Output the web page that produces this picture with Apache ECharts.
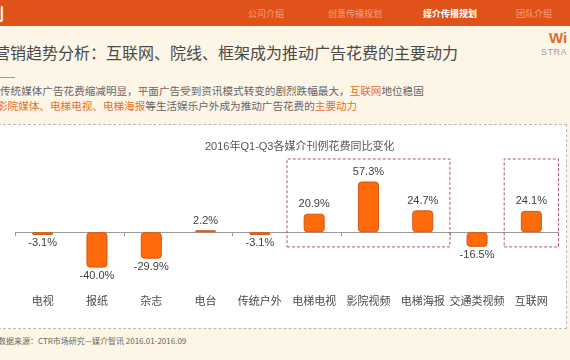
<!DOCTYPE html>
<html>
<head>
<meta charset="utf-8">
<script src="https://cdn.jsdelivr.net/npm/echarts@6/dist/echarts.min.js"></script>
<style>
  html, body { margin:0; padding:0; }
  body { width:570px; height:360px; overflow:hidden; position:relative; background:#FDF5E6; font-family:"Noto Sans CJK SC", sans-serif; }
  .band { position:absolute; left:0; top:0; width:570px; height:26px; background:#E1521B; }
  .nav { position:absolute; top:7px; font-size:9px; line-height:14px; color:#F3A27E; transform:translateX(-50%); white-space:nowrap; }
  .nav.active { color:#fff; font-weight:bold; }
  .corner { position:absolute; left:-12px; top:3px; font-size:16px; line-height:20px; color:#fff; font-weight:bold; }
  .title { position:absolute; left:-6px; top:41px; font-size:16px; line-height:22px; color:#4a4a4a; white-space:nowrap; }
  .uline { position:absolute; left:0; top:77px; width:15px; height:1px; background:#E8803F; }
  .txt { position:absolute; font-size:10.6px; line-height:14px; color:#666; white-space:nowrap; }
  .hl { color:#E8702A; }
  .logo1 { position:absolute; left:549px; top:29px; font-family:"Liberation Sans", Arial, sans-serif; font-weight:bold; font-size:15px; line-height:18px; color:#E06A2A; }
  .logo2 { position:absolute; left:541px; top:46px; font-family:"Liberation Sans", Arial, sans-serif; font-size:9px; line-height:12px; color:#9aa0a8; letter-spacing:0.5px; }
  .panel { position:absolute; left:-2px; top:124px; width:567px; height:203px; background:#fff; border:1px dashed #b8b8b8; }
  .source { position:absolute; left:-2px; top:335px; font-size:8px; line-height:12px; color:#666; white-space:nowrap; }
  #chart { position:absolute; left:0; top:0; width:570px; height:360px; z-index:2; }
</style>
</head>
<body>
<div class="band"></div>
<div class="corner">划</div>
<div class="nav" style="left:266px">公司介绍</div>
<div class="nav" style="left:355px">创意传播规划</div>
<div class="nav active" style="left:450px">媒介传播规划</div>
<div class="nav" style="left:534px">团队介绍</div>
<div class="title">营销趋势分析：互联网、院线、框架成为推动广告花费的主要动力</div>
<div class="uline"></div>
<div class="txt" style="left:0px; top:84px;">传统媒体广告花费缩减明显，平面广告受到资讯模式转变的剧烈跌幅最大，<span class="hl">互联网</span>地位稳固</div>
<div class="txt" style="left:-3px; top:99px;"><span class="hl">影院媒体、电梯电视、电梯海报</span>等生活娱乐户外成为推动广告花费的<span class="hl">主要动力</span></div>
<div class="logo1">Wi</div>
<div class="logo2">STRA</div>
<div class="panel"></div>
<div class="source">数据来源：CTR市场研究—媒介智讯 2016.01-2016.09</div>
<div id="chart"></div>
<script>
const chartTitle = '2016年Q1-Q3各媒介刊例花费同比变化';
const categories = ['电视','报纸','杂志','电台','传统户外','电梯电视','影院视频','电梯海报','交通类视频','互联网'];
const changeValues = [-3.1, -40.0, -29.9, 2.2, -3.1, 20.9, 57.3, 24.7, -16.5, 24.1];
const highlightFrom = ['电梯电视', '互联网'];
const highlightTo = ['电梯海报', '互联网'];
const highlightTop = 82.8;
const highlightBottom = -16.6;

const chart = echarts.init(document.getElementById('chart'), null, { renderer: 'canvas' });
const latin = '"Liberation Sans", Arial, "Noto Sans CJK SC", sans-serif';

const areas = highlightFrom.map((f, i) => [
  { xAxis: f, yAxis: highlightTop },
  { xAxis: highlightTo[i], yAxis: highlightBottom }
]);

chart.setOption({
  backgroundColor: 'transparent',
  animation: false,
  title: {
    text: chartTitle,
    left: 200, top: 136,
    textStyle: { fontSize: 11, fontWeight: 'normal', color: '#555', fontFamily: latin }
  },
  grid: { left: 15.5, right: 11.5, top: 152.6, bottom: 74.7, containLabel: false },
  xAxis: [
    {
      type: 'category', data: categories,
      axisLine: { onZero: true, lineStyle: { color: '#9a9a9a', width: 1 } },
      axisTick: { show: true, length: 4, lineStyle: { color: '#9a9a9a' } },
      axisLabel: { show: false }
    },
    {
      type: 'category', data: categories, position: 'bottom',
      axisLine: { show: false, onZero: false }, axisTick: { show: false },
      axisLabel: { margin: 11, fontSize: 11, color: '#4a4a4a', fontFamily: latin, interval: 0 }
    }
  ],
  yAxis: { type: 'value', min: -60, max: 90, show: false, splitLine: { show: false } },
  series: [{
    type: 'bar',
    data: changeValues.map(v => v < 0 ? { value: v, label: { position: 'bottom', distance: 3 } } : v),
    barWidth: 21,
    itemStyle: { color: '#FF6A0A', borderColor: '#D0580E', borderWidth: 1, borderRadius: 3 },
    label: {
      show: true,
      position: 'top',
      distance: 4,
      fontSize: 11,
      color: '#404040',
      fontFamily: latin,
      formatter: p => p.value.toFixed(1) + '%'
    },
    markArea: {
      silent: true,
      itemStyle: { color: 'transparent', borderColor: '#B0566A', borderWidth: 1, borderType: [3, 2] },
      data: areas
    }
  }]
});
</script>
</body>
</html>
